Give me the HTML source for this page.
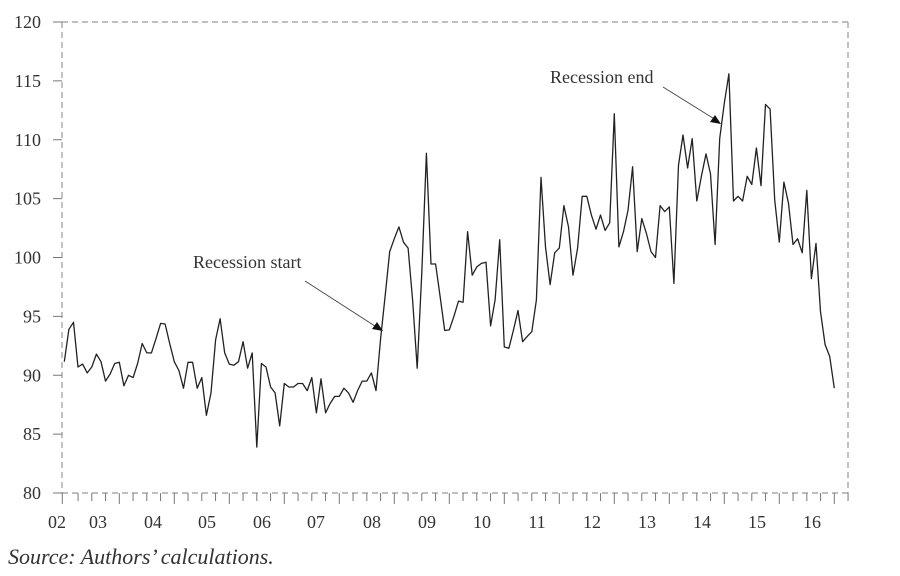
<!DOCTYPE html>
<html><head><meta charset="utf-8"><style>
body{margin:0;background:#fff;}
svg text{font-family:"Liberation Serif",serif;fill:#333;}
</style></head><body>
<svg width="900" height="571" xmlns="http://www.w3.org/2000/svg">
<g id="frame"></g>
<g id="yaxis"></g>
<g id="xaxis"></g>
<polyline id="series" fill="none" stroke="#222" stroke-width="1.3" stroke-linejoin="round"/>
<text x="193" y="268" font-size="18">Recession start</text>
<line x1="305" y1="281" x2="378" y2="328" stroke="#444" stroke-width="0.9"/>
<polygon points="383,331 372,329 377,322" fill="#111"/>
<text x="550" y="83" font-size="18">Recession end</text>
<line x1="663" y1="87" x2="716" y2="120" stroke="#444" stroke-width="0.9"/>
<polygon points="721,124 710,122 715,115" fill="#111"/>
<text x="8" y="564" font-size="22" font-style="italic">Source: Authors’ calculations.</text>
</svg>
<script>
const values=[91.15,93.9,94.5,90.7,90.95,90.2,90.7,91.8,91.15,89.5,90.1,91.0,91.1,89.1,90.0,89.8,91.0,92.7,91.9,91.9,93.1,94.4,94.35,92.7,91.15,90.4,88.9,91.1,91.1,88.9,89.8,86.6,88.5,93.0,94.8,91.9,90.95,90.85,91.15,92.85,90.6,91.9,83.9,91.0,90.7,89.0,88.5,85.7,89.3,89.0,89.0,89.3,89.3,88.7,89.8,86.8,89.7,86.8,87.6,88.2,88.2,88.9,88.5,87.7,88.7,89.5,89.5,90.2,88.7,93.1,
96.7,100.5,101.6,102.6,101.3,100.8,96.4,90.6,98.7,108.85,99.45,99.45,96.7,93.8,93.85,95.0,96.3,96.2,102.2,98.5,99.2,99.5,99.6,94.2,96.4,101.5,92.4,92.3,93.85,95.5,92.85,93.3,93.7,96.4,106.8,100.9,97.7,100.4,100.8,104.4,102.6,98.5,100.8,105.2,105.2,103.6,102.4,
103.6,102.3,102.95,112.2,100.9,102.2,104.0,107.7,100.5,103.3,102.05,100.5,100.0,104.4,103.9,104.3,97.8,107.85,110.4,107.6,110.1,104.8,106.9,108.8,107.1,101.1,110.1,113.1,115.6,104.8,105.2,104.8,106.9,106.2,109.3,106.1,113.0,112.6,104.9,101.3,106.4,104.6,101.1,101.6,100.4,105.7,98.2,101.2,95.4,92.6,91.6,88.9];
const yTicks=[80,85,90,95,100,105,110,115,120];
const yearLabels=["02","03","04","05","06","07","08","09","10","11","12","13","14","15","16"];
const yearLabelX=[57,98,153,207,262,316,372,427,482,537,592,647,702,757,812];
const NS="http://www.w3.org/2000/svg";
const L=62,R=848,T=22,B=493,X0=64.3,STEP=(834.3-64.3)/168;
const y=v=>B-(v-80)*(B-T)/40;
const x=i=>X0+i*STEP;
function mk(tag,attrs,parent){const e=document.createElementNS(NS,tag);for(const k in attrs)e.setAttribute(k,attrs[k]);document.getElementById(parent).appendChild(e);return e;}
let e;
e=mk('line',{x1:L,y1:T,x2:R,y2:T,stroke:'#999','stroke-dasharray':'6,4','stroke-width':1.2},'frame');

e=mk('line',{x1:R,y1:T,x2:R,y2:B,stroke:'#999','stroke-dasharray':'6,4','stroke-width':1.2},'frame');

e=mk('line',{x1:L,y1:T,x2:L,y2:B,stroke:'#999','stroke-dasharray':'6,4','stroke-width':1.2},'frame');

e=mk('line',{x1:L,y1:B,x2:R,y2:B,stroke:'#999','stroke-dasharray':'6,4','stroke-width':1.2},'frame');

yTicks.forEach(v=>{
 e=mk('line',{x1:L-9,y1:y(v),x2:L,y2:y(v),stroke:'#777','stroke-width':1},'yaxis');
 
 e=mk('text',{x:L-21,y:y(v)+6,'font-size':18,'text-anchor':'end'},'yaxis');
 e.textContent=v;
 
});
for(let q=0;q*3<=values.length+2;q++){
 const tx=x(q*3)+ (q===0?-2:0);
 e=mk('line',{x1:tx,y1:B,x2:tx,y2:B+(q%4===0?11:8),stroke:'#777','stroke-width':1},'xaxis');
 
}
yearLabels.forEach((t,i)=>{
 e=mk('text',{x:yearLabelX[i],y:528,'font-size':18,'text-anchor':'middle'},'xaxis');
 e.textContent=t;
 
});
document.getElementById('series').setAttribute('points',values.map((v,i)=>x(i).toFixed(1)+','+y(v).toFixed(1)).join(' '));
</script>
</body></html>
